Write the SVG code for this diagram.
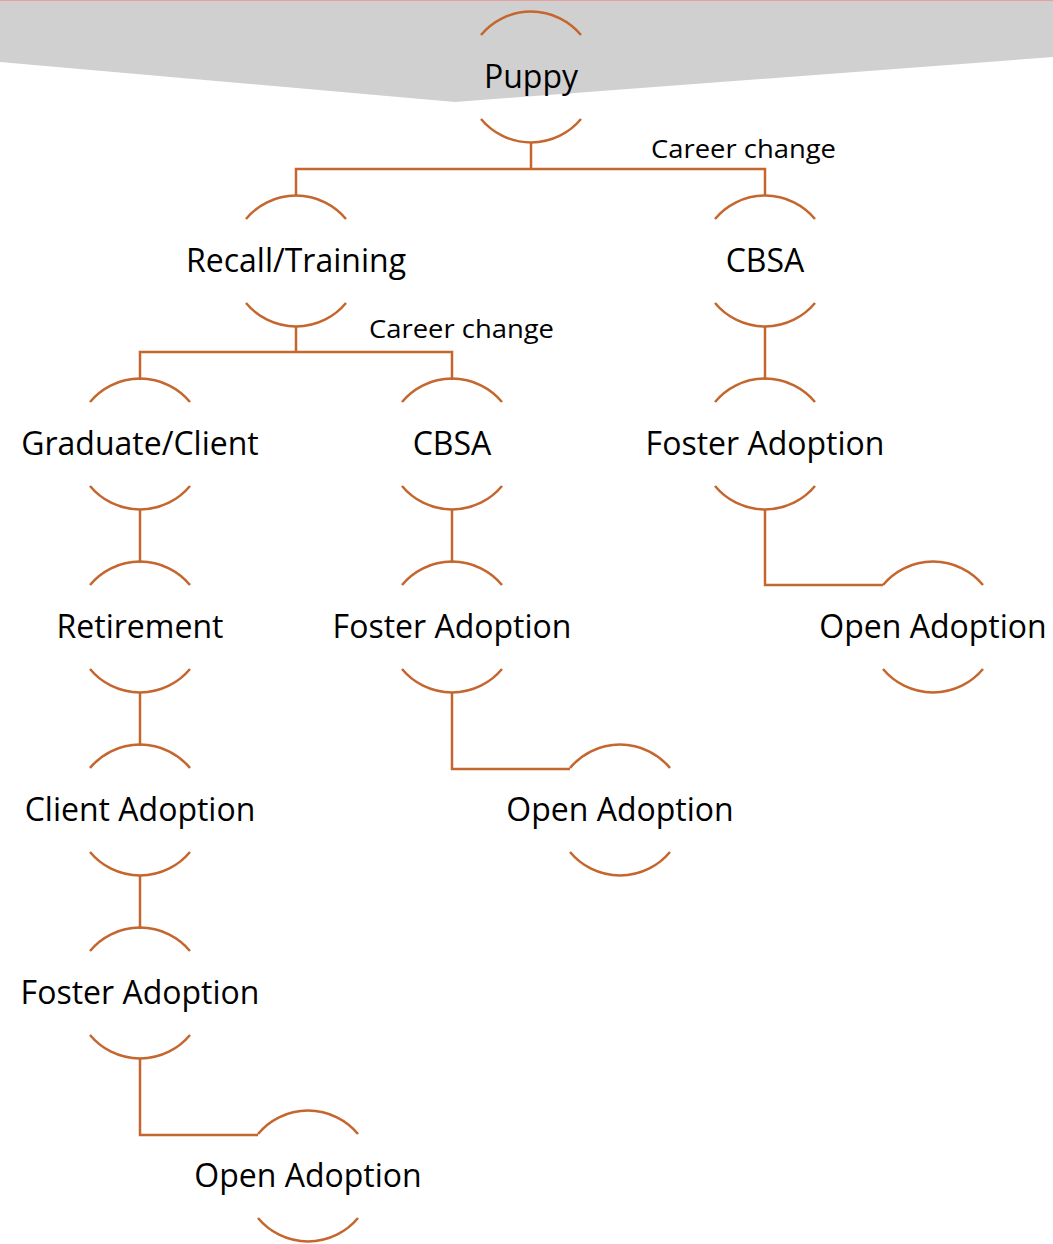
<svg xmlns="http://www.w3.org/2000/svg" width="1053" height="1244" viewBox="0 0 1053 1244">
<style>
.arc{fill:none;stroke:#c4662d;stroke-width:2.5}
.con{fill:none;stroke:#c4662d;stroke-width:2.5}
.lbl{font-family:"Open Sans","Liberation Sans",sans-serif;font-size:32px;fill:#000;text-anchor:middle}
.cc{font-family:"Open Sans","Liberation Sans",sans-serif;font-size:25px;fill:#000}
</style>
<defs>
<path id="n" class="arc" d="M-50,-42 A65,65 0 0 1 50,-42 M-50,42 A65,65 0 0 0 50,42"/>
</defs>
<rect x="0" y="0" width="1053" height="2" fill="#e8a0a0"/>
<polygon points="0,1 1053,1 1053,57 455,102 0,62" fill="#d0d0d0"/>
<g id="connectors">
<path class="con" d="M531,142 V169 M296,196 V169 H765 V196"/>
<path class="con" d="M296,326 V352 M140,380 V352 H452 V380"/>
<path class="con" d="M765,326 V380"/>
<path class="con" d="M140,509 V563"/>
<path class="con" d="M452,509 V563"/>
<path class="con" d="M765,509 V585 H883"/>
<path class="con" d="M452,692 V769 H570"/>
<path class="con" d="M140,692 V746"/>
<path class="con" d="M140,875 V929"/>
<path class="con" d="M140,1058 V1135 H258"/>
<text class="cc" x="651" y="158" textLength="185" lengthAdjust="spacingAndGlyphs">Career change</text>
<text class="cc" x="369" y="338" textLength="185" lengthAdjust="spacingAndGlyphs">Career change</text>
</g>
<g id="puppy" transform="translate(531,77)"><use href="#n"/><text class="lbl" y="11">Puppy</text></g>
<g id="recall" transform="translate(296,261)"><use href="#n"/><text class="lbl" y="11">Recall/Training</text></g>
<g id="cbsa1" transform="translate(765,261)"><use href="#n"/><text class="lbl" y="11">CBSA</text></g>
<g id="graduate" transform="translate(140,444)"><use href="#n"/><text class="lbl" y="11">Graduate/Client</text></g>
<g id="cbsa2" transform="translate(452,444)"><use href="#n"/><text class="lbl" y="11">CBSA</text></g>
<g id="foster1" transform="translate(765,444)"><use href="#n"/><text class="lbl" y="11">Foster Adoption</text></g>
<g id="retirement" transform="translate(140,627)"><use href="#n"/><text class="lbl" y="11">Retirement</text></g>
<g id="foster2" transform="translate(452,627)"><use href="#n"/><text class="lbl" y="11">Foster Adoption</text></g>
<g id="open1" transform="translate(933,627)"><use href="#n"/><text class="lbl" y="11">Open Adoption</text></g>
<g id="clientadoption" transform="translate(140,810)"><use href="#n"/><text class="lbl" y="11">Client Adoption</text></g>
<g id="open2" transform="translate(620,810)"><use href="#n"/><text class="lbl" y="11">Open Adoption</text></g>
<g id="foster3" transform="translate(140,993)"><use href="#n"/><text class="lbl" y="11">Foster Adoption</text></g>
<g id="open3" transform="translate(308,1176)"><use href="#n"/><text class="lbl" y="11">Open Adoption</text></g>
</svg>
